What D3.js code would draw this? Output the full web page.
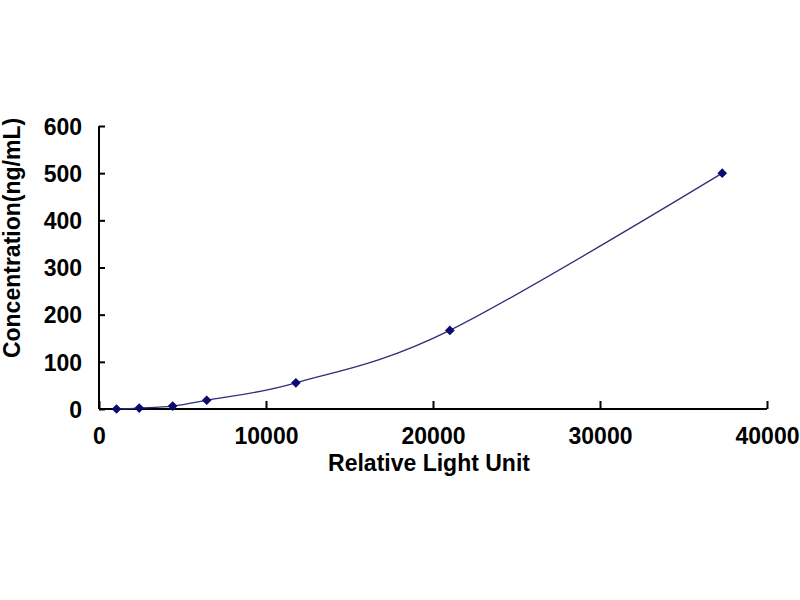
<!DOCTYPE html>
<html>
  <head>
    <script src="https://d3js.org/d3.v7.min.js"></script>
    <style>
      body { margin: 0; background: #fff; }
      text { font-family: Arial, "Liberation Sans", sans-serif; font-weight: bold; fill: #000; }
    </style>
  </head>
  <body>
    <script>

    // standard curve values
    const rlu = [1050, 2410, 4410, 6450, 11790, 21010, 37320];
    const conc = [0, 2.06, 6.17, 18.52, 55.56, 166.67, 500];
    const xTicks = [0, 10000, 20000, 30000, 40000];
    const yTicks = [0, 100, 200, 300, 400, 500, 600];

    const points = rlu.map((v, i) => ({ x: v, y: conc[i] }));

    const width = 800;
    const height = 600;

    const x = d3.scaleLinear().domain([0, 40000]).range([99, 767]);
    const y = d3.scaleLinear().domain([0, 600]).range([409, 126]);

    const svg = d3.select("body").append("svg")
        .attr("width", width)
        .attr("height", height);

    // x axis
    const xAxis = svg.append("g")
        .attr("transform", `translate(0,${y(0)})`)
        .call(d3.axisBottom(x).tickValues(xTicks).tickSize(-8).tickPadding(0).tickFormat(d3.format("d")));
    xAxis.select(".domain").attr("d", `M${x(0)},0H${x(40000)}`).attr("stroke", "#000").attr("stroke-width", 2);
    xAxis.selectAll(".tick line").attr("stroke", "#000").attr("stroke-width", 2);
    xAxis.selectAll(".tick text")
        .attr("y", 35)
        .attr("dy", 0)
        .style("font-size", "23px")
        .attr("font-family", null);

    // y axis
    const yAxis = svg.append("g")
        .attr("transform", `translate(${x(0)},0)`)
        .call(d3.axisLeft(y).tickValues(yTicks).tickSize(-6).tickPadding(0));
    yAxis.select(".domain").attr("d", `M0,${y(600)}V${y(0)}`).attr("stroke", "#000").attr("stroke-width", 2);
    yAxis.selectAll(".tick line").attr("stroke", "#000").attr("stroke-width", 2);
    yAxis.selectAll(".tick text")
        .attr("x", -17)
        .attr("dy", "0.36em")
        .style("font-size", "23px")
        .attr("font-family", null);

    // smooth fitted line
    const line = d3.line()
        .x(d => x(d.x))
        .y(d => y(d.y))
        .curve(d3.curveCatmullRom.alpha(0));

    svg.append("path")
        .datum(points)
        .attr("d", line)
        .attr("fill", "none")
        .attr("stroke", "#2e2e7a")
        .attr("stroke-width", 1.3);

    // diamond markers
    svg.append("g").selectAll("path")
      .data(points)
      .join("path")
        .attr("d", d3.symbol().type(d3.symbolDiamond2).size(60))
        .attr("transform", d => `translate(${x(d.x)},${y(d.y)})`)
        .attr("fill", "#0a0a70");

    // axis titles
    svg.append("text")
        .attr("x", 429)
        .attr("y", 471)
        .attr("text-anchor", "middle")
        .style("font-size", "23px")
        .text("Relative Light Unit");

    svg.append("text")
        .attr("transform", "translate(20,238) rotate(-90)")
        .attr("text-anchor", "middle")
        .style("font-size", "23px")
        .text("Concentration(ng/mL)");

    </script>
  </body>
</html>
